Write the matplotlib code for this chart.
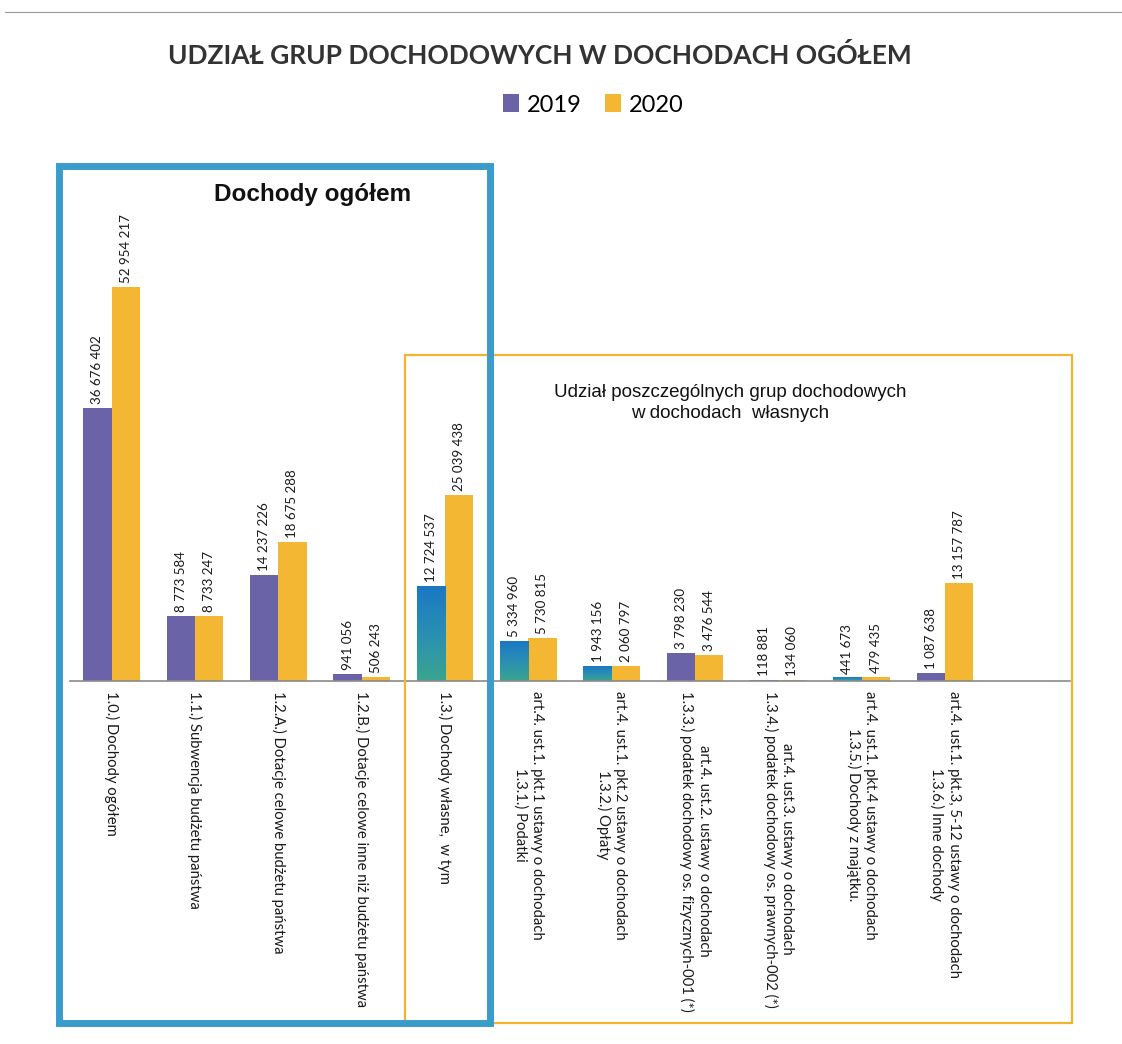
import matplotlib

matplotlib.use("Agg")
import matplotlib.pyplot as plt
import numpy as np
from matplotlib.colors import LinearSegmentedColormap
from matplotlib.patches import Rectangle

W, H = 1122, 1044

categories = [
    "1.0.) Dochody ogółem",
    "1.1.) Subwencja budżetu państwa",
    "1.2.A.) Dotacje celowe budżetu państwa",
    "1.2.B.) Dotacje celowe inne niż budżetu państwa",
    "1.3.) Dochody własne,  w tym",
    "art.4. ust.1. pkt.1 ustawy o dochodach\n1.3.1.) Podatki",
    "art.4. ust.1. pkt.2 ustawy o dochodach\n1.3.2.) Opłaty",
    "art.4. ust.2. ustawy o dochodach\n1.3.3.) podatek dochodowy os. fizycznych-001 (*)",
    "art.4. ust.3. ustawy o dochodach\n1.3.4.) podatek dochodowy os. prawnych-002 (*)",
    "art.4. ust.1. pkt.4 ustawy o dochodach\n1.3.5.) Dochody z majątku.",
    "art.4. ust.1. pkt.3, 5-12 ustawy o dochodach\n1.3.6.) Inne dochody",
]
v2019 = [36676402, 8773584, 14237226, 941056, 12724537, 5334960,
         1943156, 3798230, 118881, 441673, 1087638]
v2020 = [52954217, 8733247, 18675288, 506243, 25039438, 5730815,
         2060797, 3476544, 134060, 479435, 13157787]
years = ["2019", "2020"]

# słupki 2019 z gradientem niebiesko-zielonym (jak w skanie)
gradient_idx = [4, 5, 6, 9]

C2019 = "#6a63a8"
C2020 = "#f4b733"
BLUE = "#3a9ccb"
ORANGE = "#f0b42e"
TXT = "#1a1a1a"


def fx(x):
    return x / W


def fy(y):
    return 1 - y / H


def fmt(v):
    return f"{v:,}".replace(",", " ")


fig = plt.figure(figsize=(W / 100, H / 100), dpi=100)
fig.patch.set_facecolor("white")

# oś: baseline y=681 px, 7.44 px na 1 mln
ymax = 60e6
ax_h = ymax / 1e6 * 7.44
ax = fig.add_axes([fx(70), fy(681), (1070 - 70) / W, ax_h / H])

x = np.arange(len(categories))
bw = 0.34
b19 = ax.bar(x - bw / 2, v2019, bw, color=C2019, label=years[0], zorder=2)
b20 = ax.bar(x + bw / 2, v2020, bw, color=C2020, label=years[1], zorder=2)

cmap = LinearSegmentedColormap.from_list("bg", ["#3aa58e", "#2a8fb4", "#1a78c4"])
grad = np.linspace(0, 1, 256).reshape(-1, 1)
for i in gradient_idx:
    r = b19[i]
    r.set_facecolor("none")
    ax.imshow(grad, extent=[r.get_x(), r.get_x() + r.get_width(), 0, r.get_height()],
              origin="lower", aspect="auto", cmap=cmap, zorder=2)

ax.set_xlim(-0.5, 11.5)
ax.set_ylim(0, ymax)

off = 0.55e6
for bars, vals in ((b19, v2019), (b20, v2020)):
    for r, v in zip(bars, vals):
        ax.text(r.get_x() + r.get_width() / 2, v + off, fmt(v), rotation=90,
                ha="center", va="bottom", fontsize=9.6, family="Lato", color=TXT)

ax.set_xticks(x)
ax.set_xticklabels(categories, rotation=-90, ha="center", va="top",
                   multialignment="center", fontsize=10.7, family="Lato", color=TXT)
ax.tick_params(axis="x", length=0, pad=7)
ax.set_yticks([])
for s in ("top", "right", "left"):
    ax.spines[s].set_visible(False)
ax.spines["bottom"].set_color("#8a8a8a")
ax.spines["bottom"].set_linewidth(1.2)
ax.set_facecolor("none")

# ramki
fig.patches.append(Rectangle((fx(405), fy(1023)), (1072 - 405) / W, (1023 - 355) / H,
                             transform=fig.transFigure, fill=False, ec=ORANGE, lw=1.6,
                             zorder=5))
fig.patches.append(Rectangle((fx(59), fy(1023)), (490 - 59) / W, (1023 - 166) / H,
                             transform=fig.transFigure, fill=False, ec=BLUE, lw=5,
                             zorder=6))
fig.add_artist(plt.Line2D([fx(5), fx(1122)], [fy(12), fy(12)],
                          transform=fig.transFigure, color="#999999", lw=0.8))

fig.text(fx(540), fy(55), "UDZIAŁ GRUP DOCHODOWYCH W DOCHODACH OGÓŁEM",
         ha="center", va="center", fontsize=19, family="Lato", weight="bold",
         color="#333333")
fig.text(fx(313), fy(195), "Dochody ogółem", ha="center", va="center",
         fontsize=17.5, family="Liberation Sans", weight="bold", color="#111111")
fig.text(fx(730), fy(403), "Udział poszczególnych grup dochodowych\nw dochodach  własnych",
         ha="center", va="center", fontsize=13.5, family="Liberation Sans",
         linespacing=1.25, color="#111111")

fig.legend(handles=[b19, b20], labels=years, loc="center", ncol=2,
           bbox_to_anchor=(fx(593), fy(105)), frameon=False,
           prop={"family": "Lato", "size": 17}, handlelength=0.7, handleheight=0.8,
           handletextpad=0.3, columnspacing=1.0)

fig.savefig("out.png", dpi=100, facecolor="white")
